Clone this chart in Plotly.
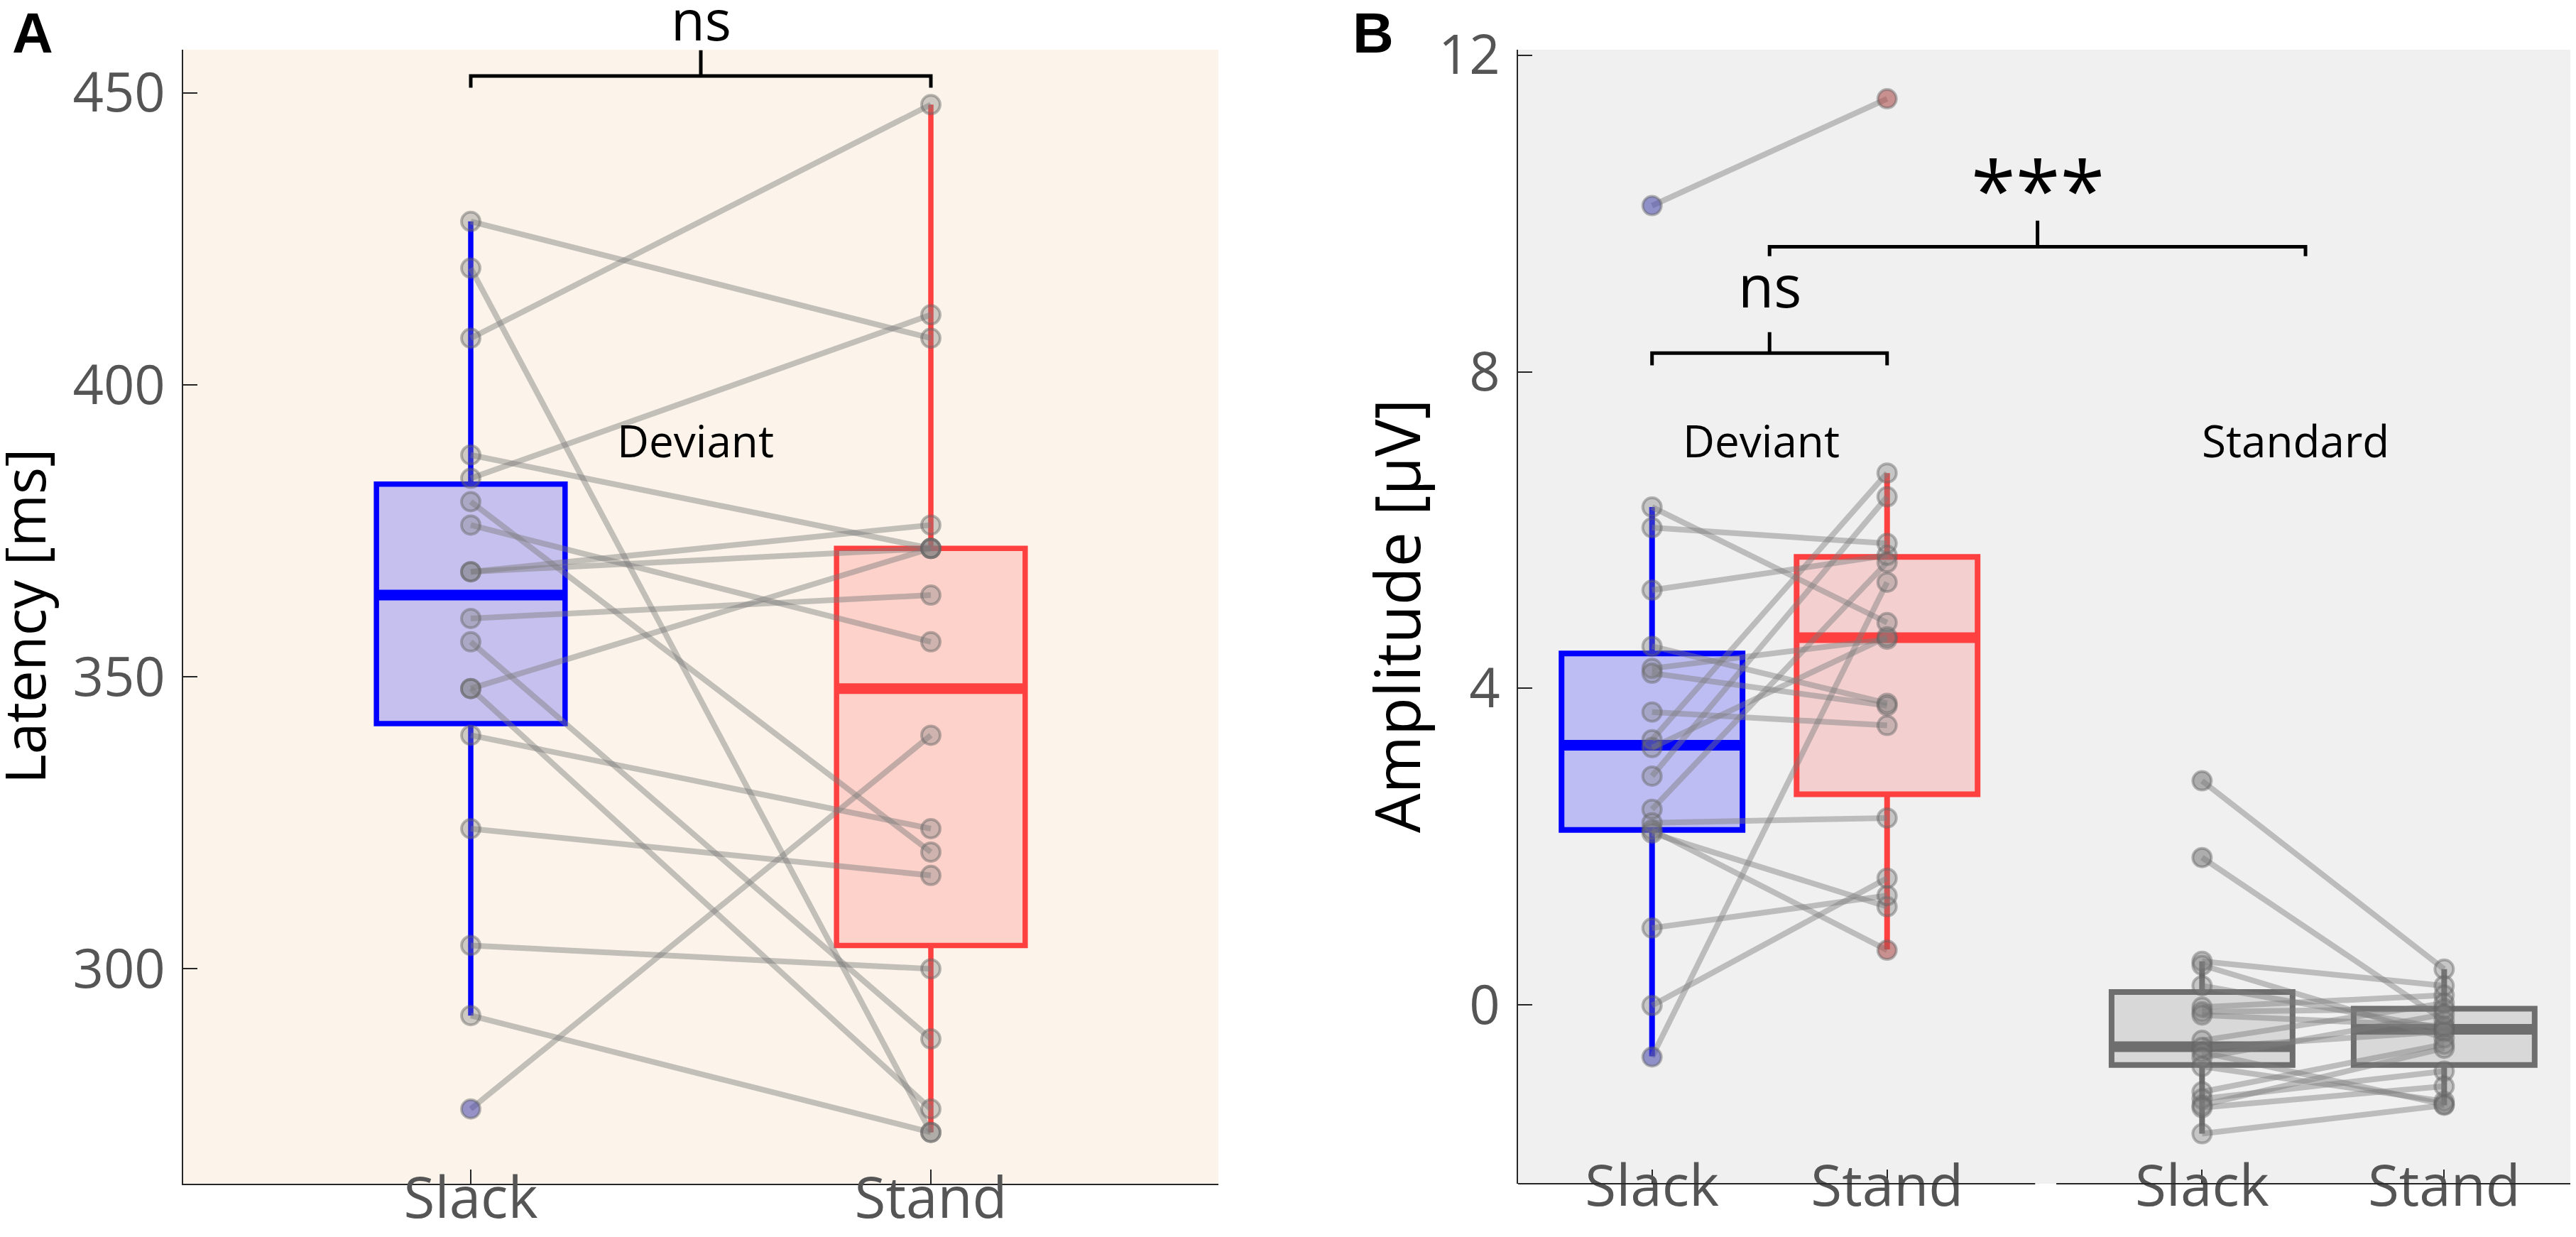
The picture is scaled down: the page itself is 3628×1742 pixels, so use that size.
import plotly.graph_objects as go

# ---------------- data ----------------
tick_names = ["Slack", "Stand"]

# Panel A: latency [ms], paired by subject (same index = same subject)
lat_slack = [428, 420, 408, 388, 384, 380, 376, 368, 368, 360, 356, 348, 348, 340, 324, 304, 292, 276]
lat_stand = [408, 272, 448, 372, 412, 320, 356, 376, 372, 364, 288, 372, 276, 324, 316, 300, 272, 340]
# box stats: q1, median, q3, lower whisker, upper whisker
lat_box_slack = [342, 364, 383, 292, 428]
lat_box_stand = [304, 348, 372, 272, 448]

# Panel B: amplitude [uV], deviant
dev_slack = [10.1, 6.29, 6.03, 5.24, 4.53, 4.25, 4.19, 3.70, 3.35, 3.25, 2.89, 2.47, 2.30, 2.21, 2.17, 0.97, -0.01, -0.66]
dev_stand = [11.45, 4.83, 5.83, 5.68, 3.81, 4.62, 3.78, 3.53, 6.72, 4.65, 6.42, 5.59, 2.36, 0.69, 1.24, 1.38, 1.60, 5.34]
dev_box_slack = [2.21, 3.28, 4.44, -0.65, 6.29]
dev_box_stand = [2.66, 4.64, 5.66, 0.70, 6.72]

# Panel B: amplitude [uV], standard
std_slack = [2.83, 1.86, 0.55, 0.50, 0.24, -0.03, -0.09, -0.13, -0.45, -0.54, -0.60, -0.67, -0.78, -1.10, -1.19, -1.27, -1.30, -1.63]
std_stand = [0.45, -0.20, 0.24, -0.42, -0.30, 0.12, -0.05, -0.27, 0.02, -0.34, -1.26, -0.12, -1.22, -0.50, -0.84, -0.55, -1.03, -1.27]
std_box_slack = [-0.76, -0.53, 0.16, -1.63, 0.55]
std_box_stand = [-0.76, -0.31, -0.05, -1.27, 0.45]

lat_ticks = [300, 350, 400, 450]
amp_ticks = [0, 4, 8, 12]

# ---------------- style / layout constants ----------------
W, H = 3628, 1742
FONT = "Open Sans"
BLUE, BLUE_F = "#0000FF", "rgba(0,0,255,0.21)"
RED, RED_F = "#FF4040", "rgba(255,64,64,0.19)"
GRAY, GRAY_F = "#6E6E6E", "rgba(110,110,110,0.19)"
PAIR_LINE = "rgba(125,125,125,0.45)"
MK_FILL = "rgba(125,125,125,0.36)"
MK_EDGE = "rgba(100,100,100,0.45)"
AX_C = "#262626"
TICK_C = "#555555"

posA = [1, 2]
posB_dev = [1, 2]
posB_std = [3.34, 4.37]
rangeA_x = [0.375, 2.625]
rangeB_x = [0.43, 4.955]
rangeA_y = [263.2, 457.4]
rangeB_y = [-2.262, 12.07]
y_dom = [83 / H, (H - 62) / H]
xA_dom = [250 / W, 1708 / W]
xB_dom = [2130 / W, 1.0]

fig = go.Figure()


def add_box(pos, stats, edge, fill, bw, xa, ya, lw, mlw):
    q1, med, q3, lo, hi = stats
    fig.add_trace(go.Box(x=[pos], q1=[q1], median=[med], q3=[q3], lowerfence=[lo], upperfence=[hi],
                         width=bw, whiskerwidth=0, boxpoints=False, fillcolor=fill,
                         line=dict(color=edge, width=lw), xaxis=xa, yaxis=ya,
                         showlegend=False, hoverinfo="skip"))
    fig.add_trace(go.Scatter(x=[pos - bw / 2, pos + bw / 2], y=[med, med], mode="lines",
                             line=dict(color=edge, width=mlw), xaxis=xa, yaxis=ya,
                             showlegend=False, hoverinfo="skip"))


def add_pairs(p0, p1, ys0, ys1, xa, ya):
    for a, b in zip(ys0, ys1):
        fig.add_trace(go.Scatter(x=[p0, p1], y=[a, b], mode="lines",
                                 line=dict(color=PAIR_LINE, width=8), xaxis=xa, yaxis=ya,
                                 showlegend=False, hoverinfo="skip"))


def add_points(p, ys, stats, out_color, xa, ya):
    lo, hi = stats[3], stats[4]
    outl = [v for v in ys if v < lo or v > hi]
    if outl:
        fig.add_trace(go.Scatter(x=[p] * len(outl), y=outl, mode="markers",
                                 marker=dict(size=26, color=out_color, line=dict(width=0)),
                                 xaxis=xa, yaxis=ya, showlegend=False, hoverinfo="skip"))
    fig.add_trace(go.Scatter(x=[p] * len(ys), y=ys, mode="markers",
                             marker=dict(size=26, color=MK_FILL, line=dict(color=MK_EDGE, width=4)),
                             xaxis=xa, yaxis=ya, showlegend=False, hoverinfo="skip"))


# ---- Panel A ----
add_box(posA[0], lat_box_slack, BLUE, BLUE_F, 0.41, "x", "y", 7.5, 15)
add_box(posA[1], lat_box_stand, RED, RED_F, 0.41, "x", "y", 7.5, 15)
add_pairs(posA[0], posA[1], lat_slack, lat_stand, "x", "y")
add_points(posA[0], lat_slack, lat_box_slack, "rgba(0,0,255,0.35)", "x", "y")
add_points(posA[1], lat_stand, lat_box_stand, "rgba(255,0,0,0.35)", "x", "y")

# ---- Panel B ----
add_box(posB_dev[0], dev_box_slack, BLUE, BLUE_F, 0.77, "x2", "y2", 8, 15)
add_box(posB_dev[1], dev_box_stand, RED, RED_F, 0.77, "x2", "y2", 8, 15)
add_box(posB_std[0], std_box_slack, GRAY, GRAY_F, 0.77, "x2", "y2", 8, 15)
add_box(posB_std[1], std_box_stand, GRAY, GRAY_F, 0.77, "x2", "y2", 8, 15)
add_pairs(posB_dev[0], posB_dev[1], dev_slack, dev_stand, "x2", "y2")
add_pairs(posB_std[0], posB_std[1], std_slack, std_stand, "x2", "y2")
add_points(posB_dev[0], dev_slack, dev_box_slack, "rgba(0,0,255,0.35)", "x2", "y2")
add_points(posB_dev[1], dev_stand, dev_box_stand, "rgba(255,0,0,0.35)", "x2", "y2")
add_points(posB_std[0], std_slack, std_box_slack, "rgba(110,110,110,0.3)", "x2", "y2")
add_points(posB_std[1], std_stand, std_box_stand, "rgba(110,110,110,0.3)", "x2", "y2")

# ---------------- axes ----------------
common_tick = dict(ticks="inside", ticklen=20, tickwidth=2, tickcolor=AX_C,
                   showgrid=False, zeroline=False)
fig.update_layout(
    width=W, height=H,
    margin=dict(l=0, r=0, t=0, b=0, autoexpand=False),
    paper_bgcolor="white", plot_bgcolor="rgba(0,0,0,0)",
    showlegend=False,
    font=dict(family=FONT, color="black"),
    xaxis=dict(domain=xA_dom, range=rangeA_x, anchor="y", tickvals=posA, ticktext=tick_names,
               showline=True, linecolor=AX_C, linewidth=2, ticklabelstandoff=-50,
               tickfont=dict(size=80, color=TICK_C, family=FONT), **common_tick),
    yaxis=dict(domain=y_dom, range=rangeA_y, anchor="x", tickvals=lat_ticks,
               showline=True, linecolor=AX_C, linewidth=2, ticklabelstandoff=8,
               tickfont=dict(size=76, color=TICK_C, family=FONT), **common_tick),
    xaxis2=dict(domain=xB_dom, range=rangeB_x, anchor="y2",
                tickvals=posB_dev + posB_std, ticktext=tick_names + tick_names,
                showline=False, ticklabelstandoff=-50,
                tickfont=dict(size=80, color=TICK_C, family=FONT), **common_tick),
    yaxis2=dict(domain=y_dom, range=rangeB_y, anchor="x2", tickvals=amp_ticks,
                showline=True, linecolor=AX_C, linewidth=2, ticklabelstandoff=8,
                tickfont=dict(size=76, color=TICK_C, family=FONT), **common_tick),
)

# backgrounds
fig.add_shape(type="rect", xref="x domain", yref="y domain", x0=0, x1=1, y0=0, y1=1,
              fillcolor="#FCF4EA", line=dict(width=0), layer="below")
fig.add_shape(type="rect", xref="x2 domain", yref="y2 domain", x0=0, x1=1, y0=0, y1=1,
              fillcolor="#F0F0F0", line=dict(width=0), layer="below")

# broken x axis line in panel B
for seg in ([rangeB_x[0], 2.63], [2.72, rangeB_x[1]]):
    fig.add_shape(type="line", xref="x2", yref="y2 domain", x0=seg[0], x1=seg[1], y0=0, y1=0,
                  line=dict(color=AX_C, width=2))


def bracket(xref, yref, x0, x1, y_line, y_end, y_top):
    xm = (x0 + x1) / 2
    path = (f"M {x0},{y_end} L {x0},{y_line} L {x1},{y_line} L {x1},{y_end} "
            f"M {xm},{y_line} L {xm},{y_top}")
    fig.add_shape(type="path", xref=xref, yref=yref, path=path,
                  line=dict(color="black", width=5))


bracket("x", "y", posA[0], posA[1], 452.9, 450.9, 457.3)
bracket("x2", "y2", posB_dev[0], posB_dev[1], 8.235, 8.08, 8.50)
dev_center = (posB_dev[0] + posB_dev[1]) / 2
std_center = 3.78
bracket("x2", "y2", dev_center, std_center, 9.58, 9.46, 9.91)


def note(text, x, y, xref, yref, size, **kw):
    fig.add_annotation(text=text, x=x, y=y, xref=xref, yref=yref, showarrow=False,
                       font=dict(size=size, color="black", family=kw.pop("family", FONT)),
                       xanchor="center", yanchor="middle", **kw)


# "ns" above panel A (outside the y range, so placed in paper units)
note("ns", 0.5 * (xA_dom[0] + xA_dom[1]), (H - 19) / H, "paper", "paper", 78)
note("Deviant", (posA[0] + posA[1]) / 2, 390.5, "x", "y", 62, xshift=-8)
note("ns", dev_center, 9.10, "x2", "y2", 82)
note("***", (dev_center + std_center) / 2, 10.32, "x2", "y2", 114)
note("Deviant", dev_center, 7.13, "x2", "y2", 62, xshift=-12)
note("Standard", std_center, 7.13, "x2", "y2", 62, xshift=-14)

note("Latency [ms]", 24 / W, 0.5063, "paper", "paper", 80, textangle=-90)
note("Amplitude [μV]", 1958 / W, 0.5063, "paper", "paper", 88, textangle=-90)
note("<b>A</b>", 38 / W, (H - 38) / H, "paper", "paper", 80, family="Liberation Sans")
note("<b>B</b>", 1926 / W, (H - 38) / H, "paper", "paper", 80, family="Liberation Sans")

fig.write_html("out.html")
